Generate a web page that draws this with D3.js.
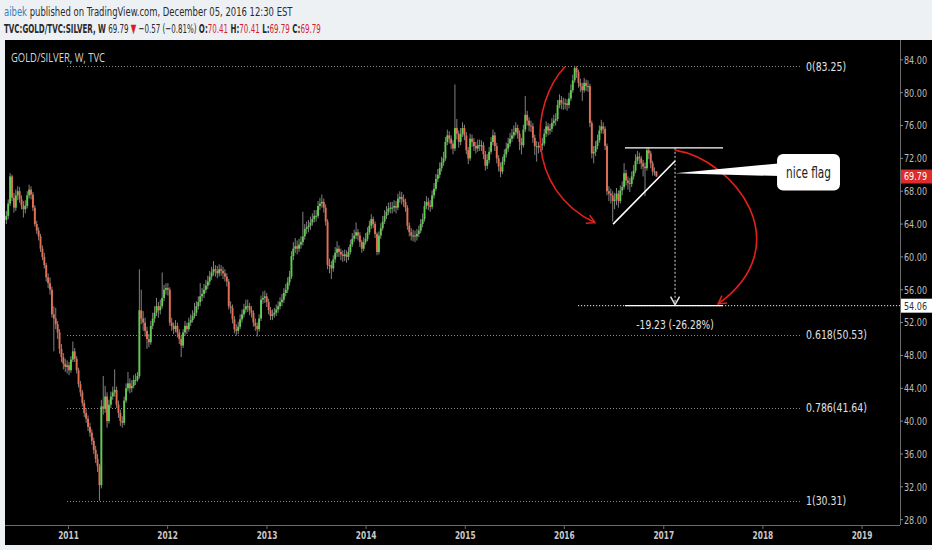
<!DOCTYPE html>
<html><head><meta charset="utf-8">
<script src="https://cdn.jsdelivr.net/npm/d3@7"></script>
<style>
html,body{margin:0;padding:0;background:#eef1f4;overflow:hidden;}
svg{display:block;}
</style></head><body>
<svg id="c" width="932" height="550"></svg>
<script>
// ---------------- DATA ----------------
const startDate = "2010-05-17";          // first weekly candle
const firstOpen = 64.5;
const lastOpen = 70.41;
const closes = [65.0,66.5,69.8,67.2,66.0,67.5,68.0,67.0,66.3,65.8,
 66.2,67.5,68.2,67.6,66.0,64.0,63.2,62.5,61.0,60.0,
 59.0,57.5,56.8,56.0,53.0,52.5,51.8,50.8,48.8,47.8,
 47.0,46.6,46.8,46.2,47.5,48.5,47.6,46.2,44.5,43.5,
 42.2,41.0,40.3,39.3,38.6,37.6,36.5,35.4,34.5,32.2,
 41.8,41.5,43.0,40.0,42.0,43.0,43.5,43.8,42.0,41.0,
 40.0,39.8,42.5,44.0,44.6,44.0,44.3,45.0,45.0,45.5,
 53.5,52.5,52.0,51.0,50.0,49.6,51.6,52.5,53.2,54.0,
 53.5,54.0,55.0,56.0,56.2,56.0,52.0,51.6,51.2,51.6,
 50.8,50.0,49.2,50.8,51.6,51.2,52.0,52.3,52.8,53.2,
 54.0,54.5,55.2,55.5,56.0,56.5,57.0,57.6,58.1,58.5,
 58.3,58.0,58.5,58.3,58.0,57.6,57.0,54.0,53.8,52.4,
 51.2,51.0,51.5,52.4,53.0,53.6,54.0,54.0,53.5,53.2,
 52.0,51.6,51.2,52.5,54.8,55.0,55.2,54.5,53.5,52.8,
 53.0,53.2,53.6,54.0,54.5,54.8,55.6,56.0,56.9,57.6,
 60.1,61.0,61.3,61.0,61.5,61.8,62.5,63.4,63.6,63.8,
 64.2,64.6,65.0,65.0,66.2,66.5,66.7,66.0,64.3,59.0,
 59.0,58.6,59.7,60.5,61.0,60.6,60.3,60.1,60.3,60.0,
 60.6,61.5,62.2,62.6,63.0,62.6,61.8,61.0,61.8,62.2,
 63.0,63.8,64.6,64.0,62.8,60.6,62.6,63.5,64.3,65.0,
 65.5,65.9,66.0,66.0,66.2,66.0,67.1,67.3,67.0,66.7,
 66.0,63.8,63.0,62.6,62.6,62.5,62.8,63.2,64.0,64.6,
 66.2,66.7,66.3,66.1,67.5,68.3,69.5,70.0,70.8,71.5,
 72.0,74.0,74.8,74.4,73.8,73.2,75.7,75.0,74.0,75.0,
 75.7,74.8,73.0,72.0,74.4,74.0,73.5,73.2,73.6,73.6,
 73.6,72.5,71.1,71.8,72.8,74.0,74.8,73.5,72.0,71.0,
 70.4,71.6,72.5,73.2,73.8,74.4,74.8,75.2,75.7,75.0,
 74.0,73.6,75.5,77.3,76.6,76.0,75.9,74.5,73.5,73.5,
 73.3,73.6,73.8,75.0,75.9,75.4,75.6,76.3,76.6,76.8,
 78.5,79.1,78.8,78.7,78.7,78.5,79.3,80.3,81.5,83.0,
 82.5,81.2,80.8,80.3,81.2,80.8,80.8,76.3,72.6,72.8,
 73.5,74.2,75.4,75.9,75.6,73.5,68.0,67.7,67.5,66.8,
 67.0,67.7,66.8,68.1,68.5,70.2,69.3,69.0,68.9,69.8,
 70.5,71.7,72.2,72.0,71.4,71.0,70.8,73.0,72.6,71.4,
 70.4,70.36,69.79];
const highs = [65.6,67.0,70.2,70.0,67.8,68.2,68.6,68.5,67.5,66.8,
 66.9,68.0,68.8,68.6,67.9,66.3,64.4,63.6,62.8,61.4,
 60.5,59.3,58.0,57.5,56.4,54.0,53.8,52.2,51.2,49.4,
 48.3,47.6,47.4,47.2,47.9,49.7,48.9,47.9,46.5,44.9,
 43.8,42.6,41.6,40.7,39.8,39.0,38.0,37.0,36.0,34.8,
 42.6,45.5,44.3,43.5,42.6,43.6,44.2,46.3,44.2,42.5,
 41.4,40.6,43.0,44.6,46.0,45.2,45.0,45.6,45.8,46.0,
 58.5,56.0,53.4,52.6,51.5,50.6,52.2,53.2,54.0,55.0,
 54.5,54.8,58.1,56.6,56.8,56.8,56.3,52.6,52.0,52.3,
 52.0,51.2,50.4,51.2,52.2,52.0,52.6,53.0,53.5,54.4,
 54.6,55.2,56.8,56.2,56.7,57.2,57.7,58.3,58.8,59.5,
 59.0,58.9,59.1,59.0,58.8,58.5,58.0,57.3,54.6,54.2,
 52.8,51.8,52.1,53.0,53.6,54.3,54.8,54.8,54.4,54.0,
 53.5,52.5,52.0,53.0,55.3,55.8,55.9,55.6,54.9,53.9,
 53.6,53.8,54.2,54.6,55.1,55.5,56.2,56.7,57.5,58.3,
 60.7,61.8,62.3,62.0,62.2,62.5,65.5,64.0,64.3,64.5,
 64.9,65.3,65.7,65.7,66.8,67.2,67.6,67.1,66.4,64.6,
 59.8,59.5,60.2,61.2,61.9,61.4,61.0,60.8,60.9,60.8,
 61.2,62.1,62.9,63.3,64.2,63.4,63.0,62.1,62.4,62.9,
 63.6,64.4,65.2,64.9,64.3,63.0,63.1,64.1,65.0,65.7,
 66.2,66.6,66.7,66.7,66.9,66.8,67.7,68.0,67.9,67.6,
 67.1,66.3,64.2,63.5,63.3,63.2,63.4,63.8,64.6,65.3,
 66.8,67.4,67.2,66.9,68.1,69.0,70.1,70.7,71.5,72.2,
 72.8,74.6,75.5,75.3,74.8,74.2,81.0,76.8,75.4,75.7,
 76.4,76.1,75.2,73.4,75.0,74.9,74.5,74.0,74.3,74.3,
 74.2,74.0,72.9,72.5,73.4,74.6,75.5,75.2,73.9,72.4,
 71.5,72.2,73.1,73.9,74.5,75.1,75.6,76.0,76.4,76.1,
 75.4,74.5,76.1,79.6,77.8,77.0,76.6,76.3,74.9,74.1,
 74.0,74.2,74.5,75.6,76.5,76.3,76.2,76.9,77.3,77.5,
 79.1,79.8,79.6,79.4,79.3,79.2,80.0,81.0,82.2,83.25,
 83.2,82.8,81.7,81.2,81.8,81.6,81.5,81.1,76.6,73.5,
 74.1,74.9,76.0,76.7,76.4,75.9,73.8,68.6,68.3,68.0,
 67.8,68.4,68.1,68.7,69.2,71.4,70.6,69.8,69.6,70.4,
 71.2,72.5,72.9,72.7,72.3,71.8,71.5,73.3,73.3,72.9,
 71.7,70.9,70.41];
const lows = [64.0,64.6,66.2,66.8,65.4,65.6,66.9,66.6,65.8,64.8,
 65.3,65.9,67.1,67.0,65.6,63.7,62.8,62.0,60.6,59.6,
 58.6,57.0,56.2,55.4,52.6,48.5,51.2,50.0,48.2,47.2,
 46.3,46.0,45.8,45.6,45.9,47.2,47.2,45.8,44.1,43.0,
 41.8,40.5,39.8,38.8,38.1,37.1,36.0,34.9,33.8,30.31,
 31.8,40.8,41.0,39.2,39.7,41.6,42.6,43.0,41.6,40.4,
 39.4,39.2,39.5,42.2,43.6,43.4,43.5,44.0,44.4,44.8,
 45.2,51.8,51.0,50.3,48.8,49.0,49.3,51.2,52.0,52.8,
 52.6,53.0,53.7,54.6,55.4,55.3,51.6,51.0,50.6,50.8,
 50.2,49.4,47.8,48.9,50.4,50.6,50.9,51.6,52.0,52.5,
 52.8,53.6,54.0,54.6,55.0,55.6,56.1,56.6,57.2,57.7,
 57.6,57.4,57.6,57.7,57.3,57.0,56.4,53.6,53.1,51.9,
 50.7,50.4,50.6,51.2,52.0,52.6,53.2,53.3,52.9,52.6,
 51.5,51.0,50.3,50.9,52.2,54.3,54.4,53.9,53.0,52.3,
 52.3,52.6,52.8,53.2,53.6,54.0,54.4,55.2,55.6,56.5,
 57.3,59.6,60.5,60.3,60.6,61.0,61.4,62.1,62.8,63.0,
 63.3,63.8,64.2,64.3,64.7,65.7,66.0,65.4,63.8,58.5,
 58.0,57.3,58.2,59.3,60.0,60.0,59.6,59.4,59.5,59.3,
 59.6,60.3,61.2,61.8,62.2,62.0,61.2,60.5,60.7,61.5,
 61.9,62.7,63.4,63.5,62.3,60.2,60.3,62.2,63.2,64.0,
 64.6,65.1,65.3,65.3,65.5,65.3,65.7,66.6,66.4,66.1,
 65.5,63.3,62.5,62.0,61.9,61.8,62.0,62.4,62.9,63.6,
 64.3,65.8,65.7,65.5,65.8,67.1,68.0,69.1,69.6,70.4,
 71.1,71.7,73.6,73.8,73.1,72.5,72.9,74.3,73.3,73.6,
 74.6,74.2,72.5,71.3,71.7,73.4,72.9,72.6,72.8,72.9,
 72.9,71.9,70.5,70.7,71.4,72.5,73.6,72.9,71.4,70.4,
 69.7,70.1,71.2,72.1,72.8,73.4,74.0,74.4,74.8,74.4,
 73.0,72.5,73.3,75.2,76.0,75.3,75.2,73.9,72.4,71.6,
 72.6,72.8,73.0,73.5,74.6,74.8,74.9,75.2,75.9,76.0,
 76.5,78.1,78.0,77.9,78.0,77.8,78.1,79.0,80.0,81.2,
 81.8,80.6,80.1,79.0,80.0,80.2,80.1,75.8,72.0,71.4,
 72.3,73.1,73.9,75.0,75.0,73.0,67.5,66.8,66.5,64.3,
 65.8,66.3,66.0,66.5,67.5,68.2,68.7,68.2,67.9,68.5,
 69.4,70.2,71.3,71.3,70.7,69.8,67.4,70.5,71.9,70.8,
 69.9,69.9,69.79];

const priceTicks = [28,32,36,40,44,48,52,56,60,64,68,72,76,80,84];
const yearTicks = [2011,2012,2013,2014,2015,2016,2017,2018,2019];

// drawing tools (time as decimal year, price)
const fibLabels = ["0","0.618","0.786","1"];
const fibPrices = [83.25,50.53,41.64,30.31];
const fibSpan = [2010.985, 2018.375];
const hLinePrice = 54.06, hLineStart = 2016.137;
const measureYears = [2016.61, 2017.114, 2017.598];
const measurePrices = [73.29, 54.06];
const measureText = "-19.23 (-26.28%)";
const flagLine = [[2016.49, 64.0], [2017.114, 71.68]];
const arc1 = [[2016.006,83.16],[2015.653,78.66],[2015.602,68.19],[2016.308,64.17]];
const arc2 = [[2017.114,73.0],[2017.719,71.8],[2018.374,61.45],[2017.548,54.27]];
const calloutAnchor = [2017.114, 70.18];
const calloutBox = [2018.143, 72.54, 2018.778, 68.08];
const calloutWedge = [71.42, 69.84];
const calloutText = "nice flag";
const lastPrice = 69.79;

// ---------------- CHART ----------------
const W = 932, H = 550;
const P = {l:5, r:900, t:40, b:525};
const NARROW = "'Liberation Sans Narrow','DejaVu Sans Condensed','Arial Narrow',sans-serif";
const svg = d3.select("#c");

// squeeze a text node horizontally (the reference uses a narrow face)
function squeeze(sel, f){
  sel.each(function(){ const w = this.getComputedTextLength();
    d3.select(this).attr("textLength", w*f).attr("lengthAdjust","spacingAndGlyphs"); });
  return sel;
}

const yd = v => { const y = Math.floor(v); const a = Date.UTC(y,0,1), b = Date.UTC(y+1,0,1); return new Date(a + (v-y)*(b-a)); };
const x = d3.scaleUtc().domain([new Date(Date.UTC(2011,0,1)), new Date(Date.UTC(2019,0,1))]).range([68.5, 862]);
const y = d3.scaleLinear().domain([28, 84]).range([519.67, 59.84]);
const X = v => x(yd(v));

const t0 = new Date(startDate + "T00:00:00Z").getTime();
const bars = closes.map((c,i) => ({
  date: new Date(t0 + i*7*864e5),
  o: i === 0 ? firstOpen : (i === closes.length-1 ? lastOpen : closes[i-1]),
  c: c, h: highs[i], l: lows[i]
}));

// background
svg.append("rect").attr("width",W).attr("height",H).attr("fill","#eef1f4");
svg.append("rect").attr("x",P.l).attr("y",P.t).attr("width",W-P.l).attr("height",505).attr("fill","#000");

// header: each line drawn in one text flow, then compressed horizontally to the reference width
function headerLine(yPos, target, build){
  const g = svg.append("g");
  const t = g.append("text").attr("x",0).attr("y",yPos)
    .attr("font-family",NARROW).attr("font-size",13).attr("fill","#2a2a2a");
  build(t);
  const w = t.node().getComputedTextLength();
  g.attr("transform",`translate(4,0) scale(${target/w},1)`);
}
headerLine(16, 289, t=>{
  t.append("tspan").attr("fill","#2f82c2").text("aibek");
  t.append("tspan").text(" published on TradingView.com, December 05, 2016 12:30 EST");
});
headerLine(33, 317, t=>{
  t.append("tspan").attr("font-weight","bold").text("TVC:GOLD/TVC:SILVER, W");
  t.append("tspan").text("  69.79 ");
  t.append("tspan").attr("fill","#d3212a").text("▼");
  t.append("tspan").text(" −0.57 (−0.81%) ");
  [["O:","70.41"],["H:","70.41"],["L:","69.79"],["C:","69.79"]].forEach(([k,v])=>{
    t.append("tspan").attr("font-weight","bold").text(" "+k);
    t.append("tspan").attr("fill","#d3212a").text(v);
  });
});

// clip
svg.append("defs").append("clipPath").attr("id","pc").append("rect")
  .attr("x",P.l).attr("y",P.t).attr("width",P.r-P.l).attr("height",P.b-P.t);
const defs = svg.select("defs");
["redArrow","whiteArrow"].forEach((id,k)=>{
  defs.append("marker").attr("id",id).attr("viewBox","-10 -6 12 12")
    .attr("refX",0).attr("refY",0).attr("markerWidth",12).attr("markerHeight",12)
    .attr("markerUnits","userSpaceOnUse").attr("orient","auto")
    .append("path").attr("d","M-8,-4.5L0,0L-8,4.5").attr("fill","none")
    .attr("stroke",k===0?"#e3201b":"#ddd").attr("stroke-width",1.5);
});

const plot = svg.append("g").attr("clip-path","url(#pc)");

// title
svg.append("text").attr("x",11).attr("y",62).attr("font-family","'Open Sans','DejaVu Sans',sans-serif")
  .attr("font-size",12.5).attr("fill","#d6d6d6").attr("textLength",94).attr("lengthAdjust","spacingAndGlyphs")
  .text("GOLD/SILVER, W, TVC");

// fib lines
fibPrices.forEach((p,i)=>{
  plot.append("line").attr("x1",X(fibSpan[0])).attr("x2",X(fibSpan[1]))
    .attr("y1",Math.round(y(p))+0.5).attr("y2",Math.round(y(p))+0.5)
    .attr("stroke","#8c8c8c").attr("stroke-dasharray","1,2");
  squeeze(svg.append("text").attr("x",X(fibSpan[1])+6).attr("y",y(p)).attr("dy","0.35em")
    .attr("font-family",NARROW).attr("font-size",13).attr("fill","#e0e0e0")
    .text(`${fibLabels[i]}(${p.toFixed(2)})`), 0.8);
});

// candles
const bw = 1.9;
const cg = plot.append("g");
cg.selectAll("line.w").data(bars).join("line").attr("class","w")
  .attr("x1",d=>x(d.date)).attr("x2",d=>x(d.date))
  .attr("y1",d=>y(d.h)).attr("y2",d=>y(d.l))
  .attr("stroke","#8f8f8f").attr("stroke-width",0.9);
cg.selectAll("rect.b").data(bars).join("rect").attr("class","b")
  .attr("x",d=>x(d.date)-bw/2).attr("width",bw)
  .attr("y",d=>y(Math.max(d.o,d.c)))
  .attr("height",d=>Math.max(1, Math.abs(y(d.o)-y(d.c))))
  .attr("fill",d=>d.c>=d.o ? "#62cc52" : "#e66e55");

// horizontal line 54.06
plot.append("line").attr("x1",X(hLineStart)).attr("x2",P.r)
  .attr("y1",y(hLinePrice)).attr("y2",y(hLinePrice))
  .attr("stroke","#f0f0f0").attr("stroke-dasharray","1.2,1.8");

// measure tool
const [m0,mm,m1] = measureYears;
measurePrices.forEach(p=>{
  plot.append("line").attr("x1",X(m0)).attr("x2",X(m1)).attr("y1",y(p)).attr("y2",y(p))
    .attr("stroke","#fff").attr("stroke-width",1.2);
});
plot.append("line").attr("x1",X(mm)).attr("x2",X(mm))
  .attr("y1",y(measurePrices[0])).attr("y2",y(measurePrices[1])-1)
  .attr("stroke","#ddd").attr("stroke-dasharray","2,2").attr("marker-end","url(#whiteArrow)");
squeeze(svg.append("text").attr("x",X(mm)).attr("y",y(measurePrices[1])+19).attr("dy","0.35em")
  .attr("text-anchor","middle").attr("font-family",NARROW).attr("font-size",13).attr("fill","#e6e6e6")
  .text(measureText), 0.78);

// flag line
plot.append("line").attr("x1",X(flagLine[0][0])).attr("y1",y(flagLine[0][1]))
  .attr("x2",X(flagLine[1][0])).attr("y2",y(flagLine[1][1]))
  .attr("stroke","#fff").attr("stroke-width",1.6);

// red arcs
[arc1,arc2].forEach(a=>{
  const pts = a.map(([t,p])=>[X(t),y(p)]);
  const pa = d3.path();
  pa.moveTo(...pts[0]); pa.bezierCurveTo(...pts[1],...pts[2],...pts[3]);
  plot.append("path").attr("d",pa.toString()).attr("fill","none")
    .attr("stroke","#e3201b").attr("stroke-width",1.6).attr("marker-end","url(#redArrow)");
});

// callout
const bx0 = X(calloutBox[0]), by0 = y(calloutBox[1]), bx1 = X(calloutBox[2]), by1 = y(calloutBox[3]);
plot.append("polygon").attr("points",[[X(calloutAnchor[0]),y(calloutAnchor[1])],[bx0+4,y(calloutWedge[0])],[bx0+4,y(calloutWedge[1])]].map(p=>p.join(",")).join(" "))
  .attr("fill","#fff");
plot.append("rect").attr("x",bx0).attr("y",by0).attr("width",bx1-bx0).attr("height",by1-by0)
  .attr("rx",6).attr("fill","#fff");
squeeze(plot.append("text").attr("x",(bx0+bx1)/2).attr("y",(by0+by1)/2).attr("dy","0.35em")
  .attr("text-anchor","middle").attr("font-family",NARROW).attr("font-size",15).attr("fill","#222")
  .text(calloutText), 0.78);

// axes
svg.append("line").attr("x1",P.l).attr("x2",P.r).attr("y1",P.b+0.5).attr("y2",P.b+0.5).attr("stroke","#6a6a6a");
svg.append("line").attr("x1",P.r+0.5).attr("x2",P.r+0.5).attr("y1",P.t).attr("y2",P.b).attr("stroke","#6a6a6a");

const xa = svg.append("g").attr("font-family",NARROW).attr("font-size",11).attr("font-weight","bold").attr("fill","#c9c9c9");
yearTicks.forEach(yr=>{
  const px = x(new Date(Date.UTC(yr,0,1)));
  xa.append("line").attr("x1",px).attr("x2",px).attr("y1",P.b).attr("y2",P.b+4).attr("stroke","#6a6a6a");
  squeeze(xa.append("text").attr("x",px).attr("y",539).attr("text-anchor","middle").text(yr), 0.75);
});

const ya = svg.append("g").attr("font-family",NARROW).attr("font-size",11).attr("fill","#bdbdbd");
priceTicks.forEach(p=>{
  ya.append("line").attr("x1",P.r).attr("x2",P.r+3).attr("y1",y(p)).attr("y2",y(p)).attr("stroke","#8a8a8a");
  ya.append("text").attr("x",P.r+4).attr("y",y(p)).attr("dy","0.35em")
    .attr("textLength",23).attr("lengthAdjust","spacingAndGlyphs").text(p.toFixed(2));
});

// price labels on axis
[[lastPrice,"#dc2c2c","#fff"],[hLinePrice,"#fff","#333"]].forEach(([p,bg,fg])=>{
  svg.append("rect").attr("x",P.r+1).attr("y",y(p)-7).attr("width",W-P.r-1).attr("height",14).attr("fill",bg);
  svg.append("text").attr("x",P.r+4).attr("y",y(p)).attr("dy","0.35em")
    .attr("font-family",NARROW).attr("font-size",11).attr("fill",fg)
    .attr("textLength",23).attr("lengthAdjust","spacingAndGlyphs").text(p.toFixed(2));
});
</script>
</body></html>
